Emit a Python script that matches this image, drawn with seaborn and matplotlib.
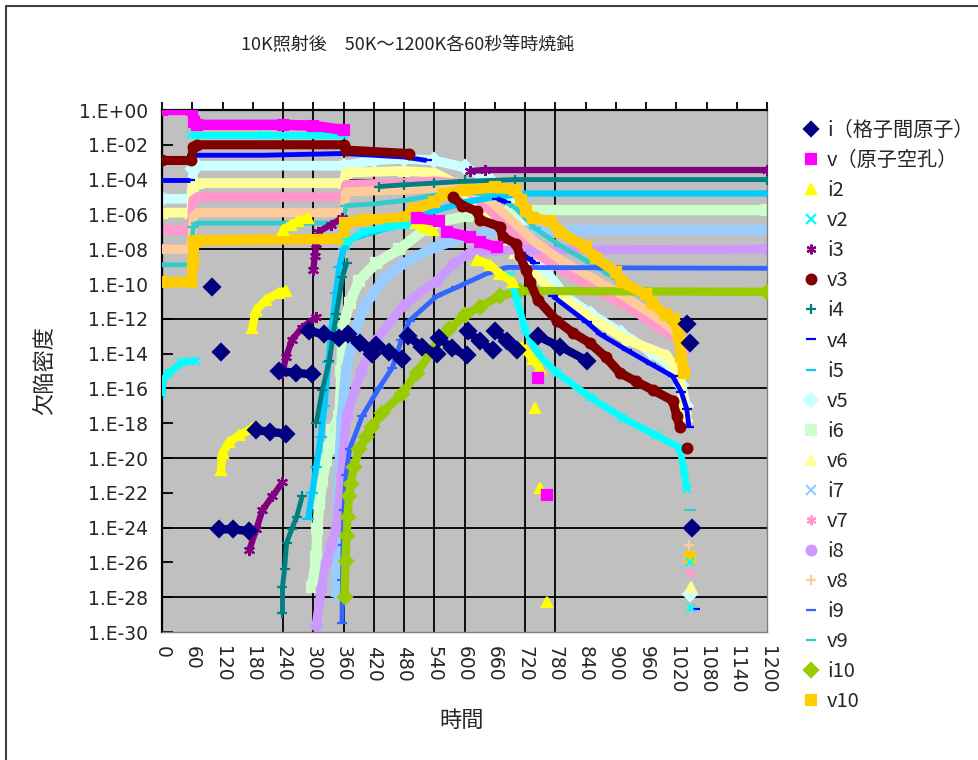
import numpy as np
import pandas as pd
import matplotlib
matplotlib.use('Agg')
import matplotlib.pyplot as plt
from matplotlib.lines import Line2D
from matplotlib.ticker import FixedLocator, FuncFormatter, NullLocator
import seaborn as sns

# text
title = '10K照射後　50K～1200K各60秒等時焼鈍'
x_label = '時間'
y_label = '欠陥密度'
x_ticks = [0, 60, 120, 180, 240, 300, 360, 420, 480, 540, 600, 660, 720, 780,
           840, 900, 960, 1020, 1080, 1140, 1200]
y_exps = [0, -2, -4, -6, -8, -10, -12, -14, -16, -18, -20, -22, -24, -26, -28, -30]
v_grid_t = [240, 300, 360, 420, 480, 540, 600, 720, 780]
h_grid_exp = [-4, -8, -12, -16, -20, -24, -28]

names = ['i（格子間原子）', 'v（原子空孔）', 'i2', 'v2', 'i3', 'v3', 'i4', 'v4', 'i5', 'v5',
         'i6', 'v6', 'i7', 'v7', 'i8', 'v8', 'i9', 'v9', 'i10', 'v10']

# values: segments of (time, log10 density)
i_pts = [
    [(100, -10.2)],
    [(117, -13.9)],
    [(113, -24.1), (140, -24.1), (173, -24.2)],
    [(187, -18.4), (215, -18.5), (246, -18.6)],
    [(232, -15.0), (265, -15.1), (298, -15.2)],
    [(292, -12.7), (322, -12.9), (352, -13.1)],
    [(368, -12.9), (392, -13.4), (417, -14.0)],
    [(425, -13.5), (450, -13.9), (477, -14.3)],
    [(488, -13.0), (515, -13.6), (545, -14.0)],
    [(550, -13.1), (575, -13.7), (604, -14.1)],
    [(606, -12.7), (630, -13.3), (656, -13.8)],
    [(660, -12.7), (685, -13.3), (705, -13.8)],
    [(745, -13.0), (790, -13.6), (843, -14.4)],
    [(1041, -12.3)], [(1047, -13.4)], [(1051, -24.0)],
]
v_pts = [
    [(0, 0.0), (60, 0.0), (64, -0.7), (70, -0.85), (240, -0.85), (300, -0.9), (360, -1.15)],
    [(505, -6.2), (550, -6.4)],
    [(565, -7.0), (610, -7.3)],
    [(630, -7.6), (665, -7.9)],
    [(745, -15.4)], [(763, -22.1)],
]
i2_pts = [
    [(117, -20.7), (120, -19.7), (133, -19.1), (153, -18.7), (179, -18.3)],
    [(179, -12.5), (187, -11.5), (207, -10.9), (232, -10.5), (246, -10.4)],
    [(240, -6.9), (255, -6.6), (270, -6.4), (290, -6.2)],
    [(504, -6.5), (520, -6.7), (537, -6.9)],
    [(624, -8.6), (650, -8.9), (670, -9.4), (696, -9.9)],
    [(715, -13.6), (735, -14.3), (749, -14.8)],
    [(739, -17.1)], [(749, -21.7)], [(763, -28.3)],
]
v2_pts = [
    [(0, -16.3), (2, -15.5), (14, -15.1), (40, -14.5), (68, -14.4)],
    [(58, -1.45), (200, -1.45), (360, -1.45)],
    [(365, -7.6), (400, -7.0), (450, -6.7), (497, -6.6)],
    [(690, -9.5), (705, -11.0), (720, -12.6), (745, -14.0), (783, -15.1), (849, -16.5),
     (914, -17.7), (980, -18.7), (1027, -19.4), (1035, -20.7), (1041, -21.8)],
    [(1047, -26.0)], [(1050, -28.6)],
]
i3_pts = [
    [(173, -25.3), (187, -24.1), (199, -23.0), (219, -22.2), (239, -21.4)],
    [(239, -15.1), (246, -14.2), (258, -13.2), (278, -12.5), (306, -11.9)],
    [(300, -9.2), (303, -8.4), (306, -7.7)],
    [(310, -7.0), (335, -6.6), (358, -6.2)],
    [(610, -3.5), (640, -3.45), (1200, -3.45)],
]
v3_pts = [
    [(0, -2.9), (58, -2.9), (62, -2.1), (70, -2.0), (360, -2.0), (365, -2.3), (490, -2.5)],
    [(577, -5.0), (596, -5.5), (624, -5.8), (630, -6.3), (670, -6.7), (676, -7.3), (703, -7.7),
     (710, -8.4), (722, -9.2), (730, -9.9), (745, -10.9), (783, -12.1), (815, -12.8),
     (849, -13.4), (880, -14.2), (908, -15.1), (940, -15.6), (974, -16.1), (1013, -16.7),
     (1021, -17.6), (1027, -18.2)],
    [(1041, -19.4)],
]
i4_pts = [
    [(239, -28.9), (239, -27.4), (243, -26.4), (247, -24.9), (257, -24.1), (267, -23.4), (278, -22.2)],
    [(306, -18.0), (318, -16.1), (332, -14.4), (346, -11.7), (358, -9.6), (366, -8.8)],
    [(430, -4.4), (480, -4.3), (540, -4.2), (600, -4.1), (700, -4.0), (1200, -4.0)],
]
v4_pts = [
    [(0, -4.0), (55, -4.0)],
    [(60, -2.6), (200, -2.6), (360, -2.5), (480, -2.7), (525, -2.9)],
    [(665, -5.1), (683, -5.3)],
    [(712, -8.2), (725, -8.5), (740, -8.8)],
    [(775, -10.7), (843, -12.2), (870, -12.9), (922, -13.8), (970, -14.6), (1013, -15.3),
     (1030, -16.2), (1041, -17.2), (1045, -18.2)],
    [(1058, -28.7)],
]
i5_pts = [
    [(290, -23.5), (298, -22.0), (306, -20.5), (315, -18.8), (322, -17.0), (330, -14.5),
     (337, -12.5), (345, -10.5), (352, -9.0), (360, -8.0), (375, -7.4), (420, -7.0),
     (480, -6.5), (540, -5.8), (600, -5.3), (660, -5.0), (720, -4.8), (1200, -4.8)],
]
v5_pts = [
    [(0, -5.1), (58, -5.1), (62, -3.4), (70, -3.2), (360, -3.2), (420, -2.9), (480, -2.8),
     (540, -2.9), (600, -3.3), (650, -4.0), (690, -5.2), (720, -6.8), (760, -9.2),
     (800, -10.7), (850, -11.7), (910, -12.8), (970, -13.9), (1013, -14.8), (1030, -15.8),
     (1040, -17.0)],
    [(1048, -27.8)],
]
i6_pts = [
    [(298, -27.4), (306, -25.7), (308, -24.1), (312, -22.6), (318, -21.3), (326, -20.1),
     (332, -19.4), (338, -18.4), (352, -17.6), (356, -15.0), (358, -12.6), (372, -11.1),
     (391, -9.8), (425, -8.8), (471, -8.0), (537, -6.5), (604, -6.1), (695, -5.75), (1200, -5.75)],
]
v6_pts = [
    [(0, -5.9), (58, -5.9), (62, -4.3), (70, -4.2), (360, -4.2), (365, -3.6), (480, -3.5),
     (540, -3.6), (580, -4.2), (620, -5.3), (660, -6.8), (700, -8.2), (740, -9.5),
     (790, -10.7), (854, -12.0), (922, -13.2), (1001, -14.1), (1025, -15.2), (1035, -16.8),
     (1042, -17.6)],
    [(1050, -27.4)],
]
i7_pts = [
    [(345, -28.0), (350, -22.0), (356, -18.0), (365, -15.0), (380, -13.0), (400, -11.3),
     (440, -9.7), (480, -8.8), (540, -7.9), (600, -7.3), (660, -7.0), (740, -6.9), (1200, -6.9)],
]
v7_pts = [
    [(0, -6.9), (58, -6.9), (62, -5.2), (70, -5.0), (360, -5.0), (365, -4.3), (480, -4.2),
     (540, -4.1), (580, -4.2), (620, -4.9), (660, -6.0), (700, -7.2), (740, -8.2),
     (790, -9.1), (830, -9.8), (880, -10.6), (940, -11.6), (990, -12.6), (1030, -13.2),
     (1040, -13.8)],
    [(1047, -26.6)],
]
i8_pts = [
    [(306, -29.6), (316, -27.5), (326, -26.0), (336, -25.0), (346, -24.0), (356, -21.0),
     (366, -17.6), (395, -15.0), (425, -13.2), (480, -11.2), (545, -9.8), (580, -8.8),
     (610, -8.2), (660, -8.05), (1200, -8.0)],
]
v8_pts = [
    [(0, -8.0), (58, -8.0), (62, -6.1), (70, -5.9), (360, -5.9), (365, -4.7), (480, -4.6),
     (540, -4.5), (600, -4.5), (650, -5.2), (700, -6.5), (740, -7.6), (790, -8.6),
     (850, -9.6), (910, -10.6), (970, -11.7), (1013, -12.6), (1035, -13.6)],
    [(1045, -25.0)],
]
i9_pts = [
    [(357, -29.5), (358, -27.0), (359, -25.0), (361, -23.0), (365, -21.0), (372, -19.5),
     (397, -17.6), (430, -16.0), (457, -14.8), (475, -13.2), (491, -12.1), (545, -10.7),
     (584, -10.2), (644, -9.4), (684, -9.05), (1200, -9.1)],
]
v9_pts = [
    [(0, -8.9), (58, -8.9), (62, -6.7), (70, -6.5), (360, -6.5), (365, -5.5), (420, -5.4),
     (480, -5.2), (540, -4.9), (600, -4.7), (660, -4.9), (700, -5.6), (740, -6.8),
     (790, -7.8), (850, -8.8), (910, -9.9), (970, -11.1), (1013, -12.2), (1035, -13.2)],
    [(1048, -23.0)],
]
i10_pts = [
    [(362, -28.0), (364, -25.9), (366, -24.5), (368, -23.4), (371, -22.2), (374, -21.5),
     (381, -20.5), (391, -19.5), (405, -18.8), (417, -18.2), (437, -17.4), (477, -16.3),
     (505, -15.1), (537, -13.8), (570, -12.6), (600, -11.8), (630, -11.3), (670, -10.7),
     (710, -10.4), (1200, -10.45)],
]
v10_pts = [
    [(0, -9.9), (58, -9.9), (61, -8.8), (64, -7.6), (70, -7.5), (360, -7.4), (362, -6.5),
     (400, -6.3), (480, -6.2), (500, -5.7), (540, -5.3), (560, -4.8), (600, -4.6),
     (660, -4.45), (700, -4.6), (712, -5.2), (722, -5.8), (735, -6.2), (770, -6.4),
     (790, -7.0), (840, -7.9), (860, -8.5), (900, -9.3), (912, -9.9), (960, -10.6),
     (972, -11.1), (1000, -11.8), (1015, -12.0), (1025, -13.0), (1030, -14.2), (1035, -15.1)],
    [(1047, -25.7)],
]

all_pts = [i_pts, v_pts, i2_pts, v2_pts, i3_pts, v3_pts, i4_pts, v4_pts, i5_pts, v5_pts,
           i6_pts, v6_pts, i7_pts, v7_pts, i8_pts, v8_pts, i9_pts, v9_pts, i10_pts, v10_pts]

colors = ['#000080', '#FF00FF', '#FFFF00', '#00FFFF', '#800080', '#800000', '#008080', '#0000FF',
          '#00CCFF', '#CCFFFF', '#CCFFCC', '#FFFF99', '#99CCFF', '#FF99CC', '#CC99FF', '#FFCC99',
          '#3366FF', '#33CCCC', '#99CC00', '#FFCC00']
star = (6, 2, 0)
markers = ['D', 's', '^', 'x', star, 'o', '+', '_', '_', 'D',
           's', '^', 'x', star, 'o', '+', '_', '_', 'D', 's']
widths = [6, 7.5, 6, 5, 4.5, 6.5, 3.5, 3.5, 4.5, 7, 7.5, 7, 7.5, 7, 6.5, 6.5, 3.5, 3.5, 6, 7.5]
msizes = [8, 7, 7, 6, 8, 7, 7, 7, 8, 7, 7, 7, 7, 7, 7, 7, 7, 8, 7, 7]
# draw order: pale bands first, darker marks on top
zorders = [3.9, 3.8, 3.7, 3.6, 3.3, 3.75, 3.2, 3.5, 3.1, 2.0,
           2.1, 2.2, 2.3, 2.4, 2.5, 2.6, 3.0, 2.7, 3.4, 3.45]

sns.set_style('white')
plt.rcParams['font.family'] = ['Noto Sans CJK JP', 'DejaVu Sans']

fig = plt.figure(figsize=(9.79, 7.6), dpi=100)
ax = fig.add_axes([162 / 979, 1 - 632 / 760, 605 / 979, 522 / 760])
ax.set_facecolor('#C0C0C0')
ax.set_yscale('log')

for k, pts in enumerate(all_pts):
    rows = []
    for s, seg in enumerate(pts):
        for t, e in seg:
            rows.append({'t': t, 'val': 10.0 ** e, 'seg': s})
    df = pd.DataFrame(rows)
    sns.lineplot(data=df, x='t', y='val', units='seg', estimator=None, sort=False, ax=ax,
                 color=colors[k], lw=widths[k], marker=markers[k], markersize=msizes[k],
                 markeredgecolor=colors[k], markeredgewidth=1.6, legend=False,
                 zorder=zorders[k], solid_capstyle='butt')

for t in v_grid_t:
    ax.axvline(t, color='black', lw=1.3, zorder=1)
for e in h_grid_exp:
    ax.axhline(10.0 ** e, color='black', lw=1.3, zorder=1)

ax.set_xlim(0, 1200)
ax.set_ylim(1e-30, 1)
ax.xaxis.set_major_locator(FixedLocator(x_ticks))
ax.set_xticklabels([str(t) for t in x_ticks], rotation=-90, family='DejaVu Sans')
ax.tick_params(axis='x', top=True, bottom=False, labeltop=False, labelbottom=True,
               direction='out', length=6, width=1.3, labelsize=13.5, pad=4, color='black')
ax.yaxis.set_major_locator(FixedLocator([10.0 ** e for e in y_exps]))
ax.yaxis.set_minor_locator(NullLocator())
ax.yaxis.set_major_formatter(FuncFormatter(
    lambda v, p: '1.E%+03d' % int(round(np.log10(v)))))
ax.tick_params(axis='y', left=True, direction='in', length=8, width=1.3, labelsize=13.5,
               pad=10, color='black')
for lab in ax.get_yticklabels():
    lab.set_family('DejaVu Sans')
ax.set_xlabel('')
ax.set_ylabel('')
for side in ['left', 'top']:
    ax.spines[side].set_color('black')
    ax.spines[side].set_linewidth(1.6)
for side in ['right', 'bottom']:
    ax.spines[side].set_color('#808080')
    ax.spines[side].set_linewidth(1.0)

fig.text(408 / 979, 1 - 45 / 760, title, ha='center', va='center', fontsize=13)
fig.text(45 / 979, 1 - 370 / 760, y_label, ha='center', va='center', rotation=90, fontsize=16)
fig.text(462 / 979, 1 - 720 / 760, x_label, ha='center', va='center', fontsize=16)

handles = [Line2D([], [], ls='none', marker=markers[k], color=colors[k], mec=colors[k],
                  markersize=7, markeredgewidth=1.6) for k in range(len(names))]
fig.legend(handles, names, loc='upper left', bbox_to_anchor=(794 / 979, 1 - 110 / 760),
           frameon=False, fontsize=14.5, labelspacing=0.45, handlelength=0.7,
           handletextpad=0.45, borderpad=0)

# outer chart border (top and left edges are inside the picture)
fig.add_artist(Line2D([6 / 979, 6 / 979, 1], [0, 1 - 6 / 760, 1 - 6 / 760],
                      transform=fig.transFigure, color='#404040', lw=1.5))

fig.savefig('out.png', dpi=100)
